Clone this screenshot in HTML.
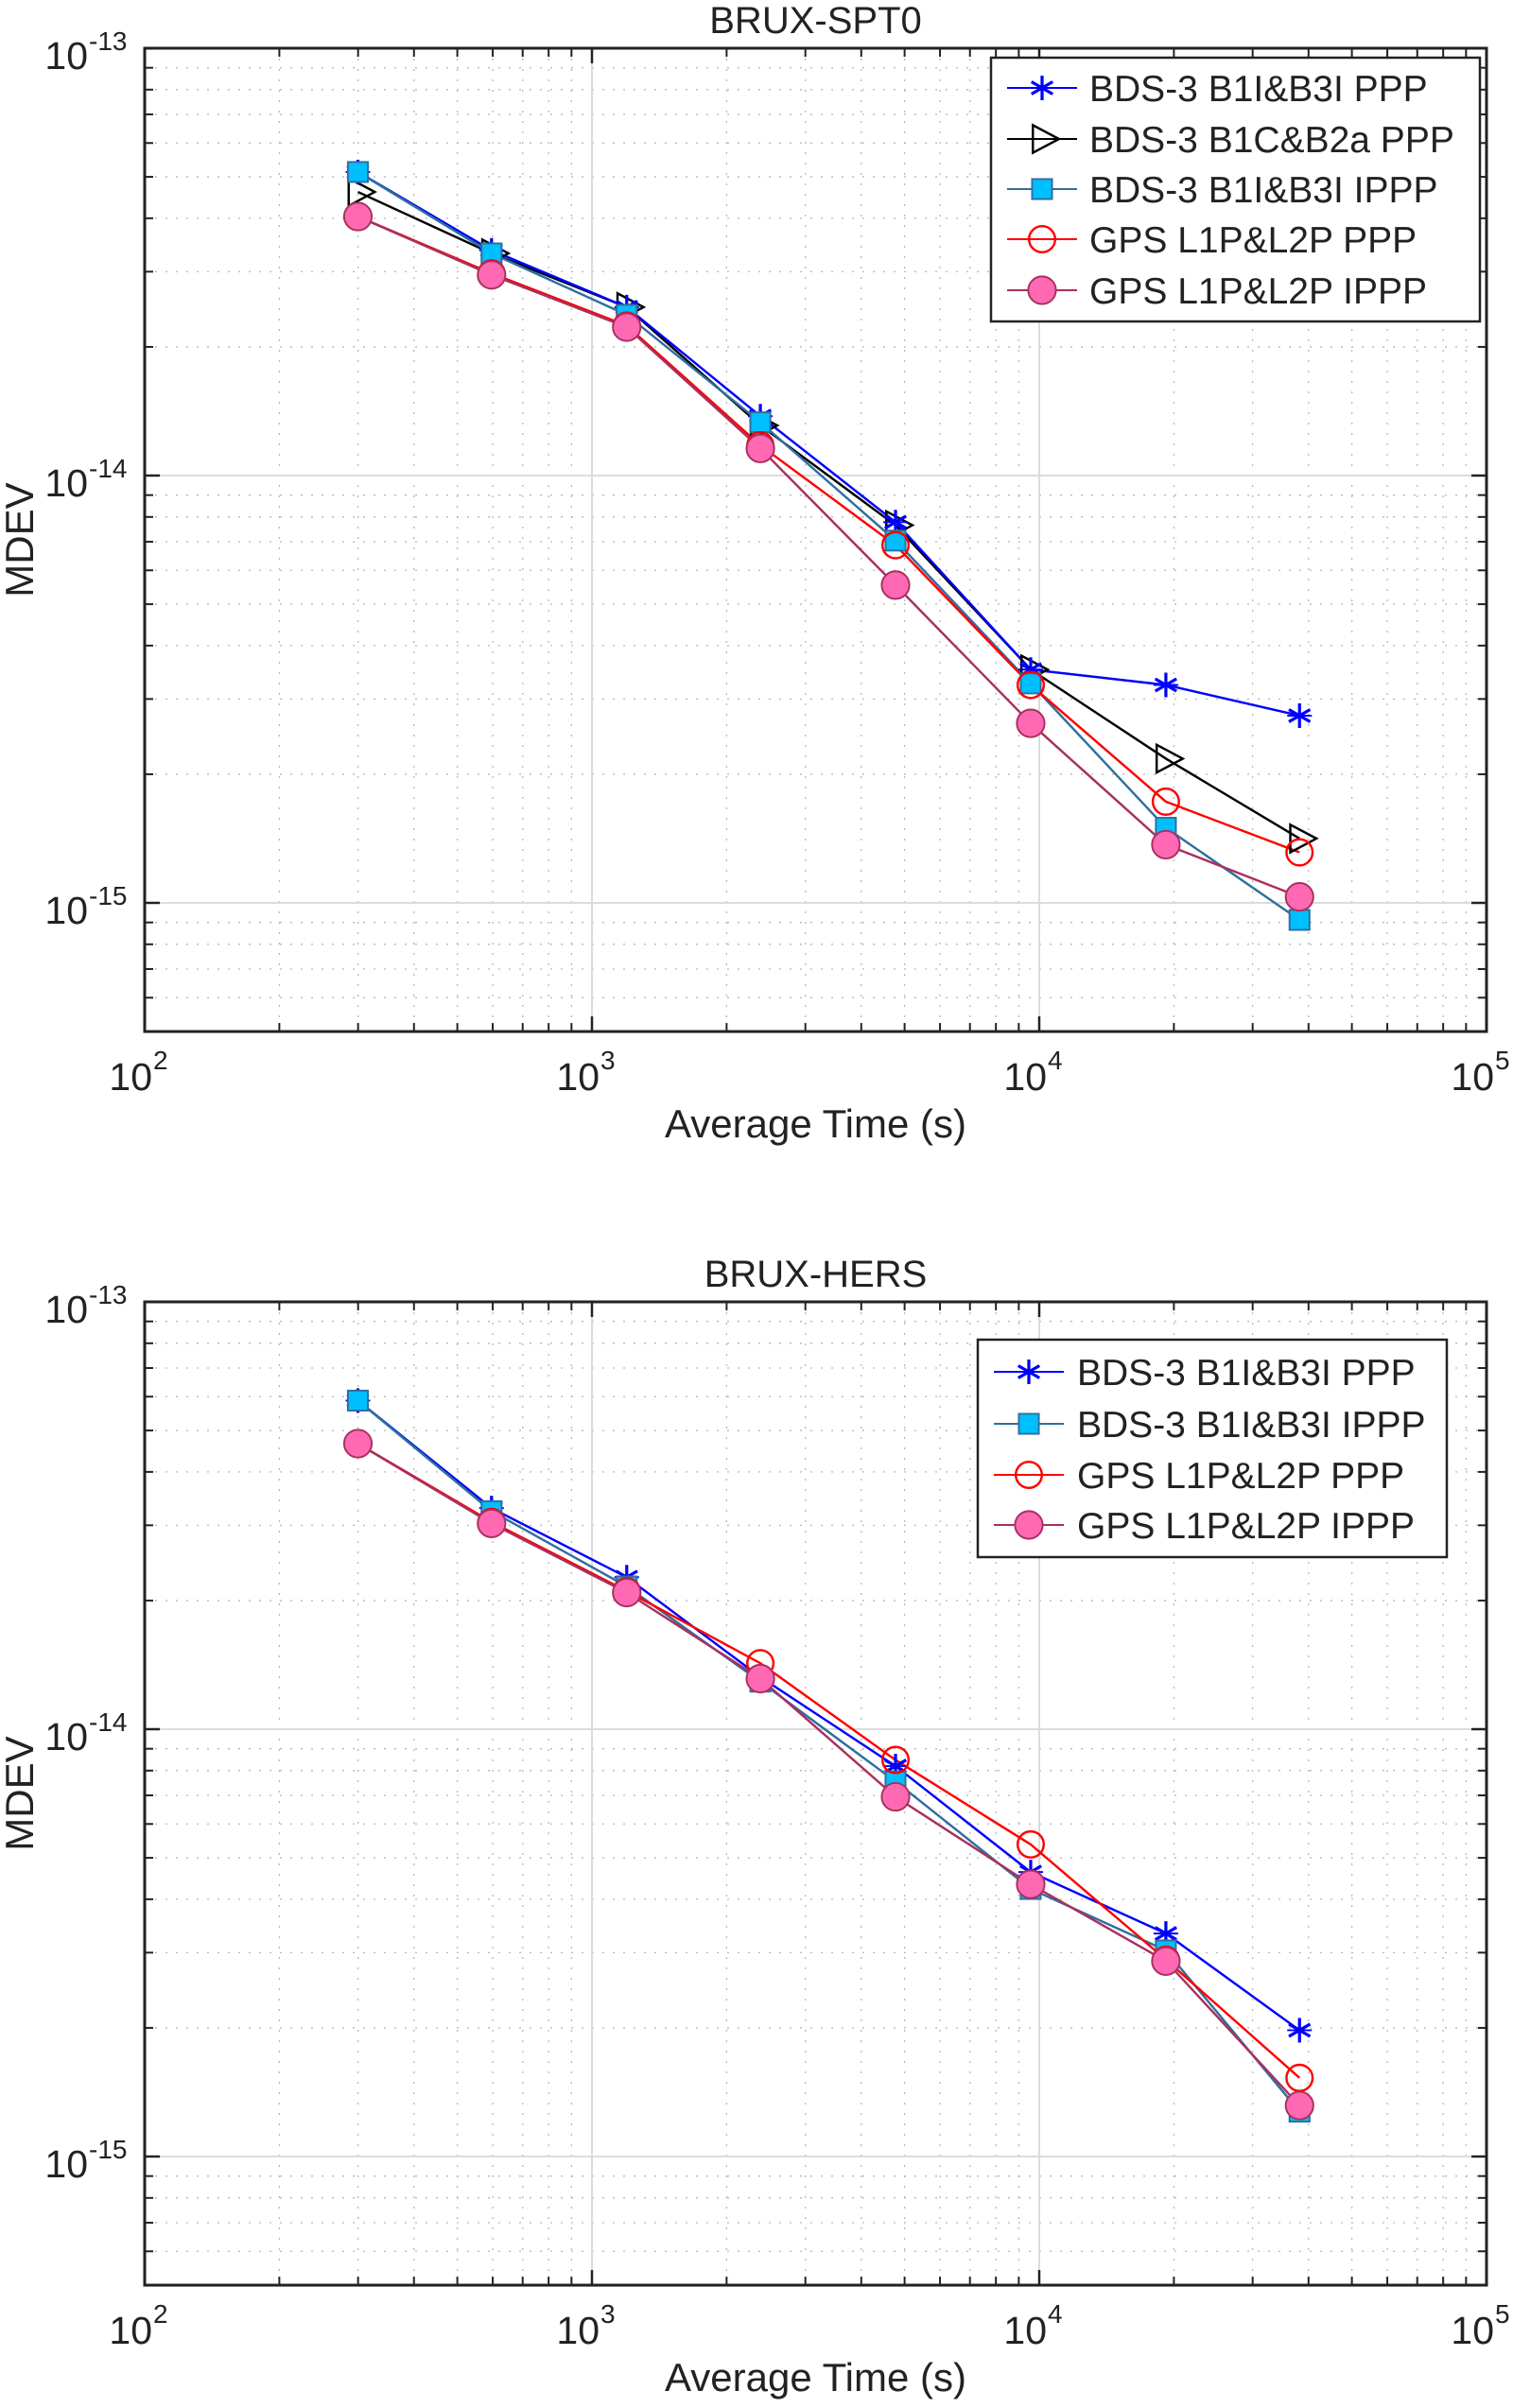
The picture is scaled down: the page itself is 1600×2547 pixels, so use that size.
<!DOCTYPE html>
<html><head><meta charset="utf-8"><style>
html,body{margin:0;padding:0;background:#fff}
svg{display:block}
text{font-family:"Liberation Sans",Arial,sans-serif;fill:#222}
</style></head><body>
<svg id="s" width="1600" height="2547" xmlns="http://www.w3.org/2000/svg"></svg>
<script>
const S=document.getElementById('s');const NS='http://www.w3.org/2000/svg';
function el(t,a,p){const e=document.createElementNS(NS,t);for(const k in a)e.setAttribute(k,a[k]);(p||S).appendChild(e);return e;}
function txt(x,y,s,sz,anc,p,extra){const e=el('text',Object.assign({x:x,y:y,'font-size':sz,'text-anchor':anc||'start'},extra||{}),p);e.textContent=s;return e;}
const L=153,R=1572,XD=473;
function X(t){return L+XD*(Math.log10(t)-2);}
function axes(top,title){
  const D=452,bot=top+D*(2+Math.log10(2));
  function Y(v){return top+D*(-13-Math.log10(v));}
  for(let d=2;d<=4;d++)for(let m=2;m<=9;m++){const x=X(m*Math.pow(10,d));
    el('line',{x1:x,y1:top,x2:x,y2:bot,stroke:'#b8b8b8','stroke-width':1.3,'stroke-dasharray':'2 9'});
    el('line',{x1:x,y1:bot,x2:x,y2:bot-9,stroke:'#222','stroke-width':2});
    el('line',{x1:x,y1:top,x2:x,y2:top+9,stroke:'#222','stroke-width':2});}
  for(let e=-16;e<=-14;e++)for(let m=1;m<=9;m++){const v=m*Math.pow(10,e);const y=Y(v);if(y>bot+1||y<top-1)continue;if(m==1&&e>-16)continue;
    el('line',{x1:L,y1:y,x2:R,y2:y,stroke:'#b8b8b8','stroke-width':1.3,'stroke-dasharray':'2 9'});
    el('line',{x1:L,y1:y,x2:L+9,y2:y,stroke:'#222','stroke-width':2});
    el('line',{x1:R,y1:y,x2:R-9,y2:y,stroke:'#222','stroke-width':2});}
  for(let d=3;d<=4;d++){const x=X(Math.pow(10,d));el('line',{x1:x,y1:top,x2:x,y2:bot,stroke:'#dcdcdc','stroke-width':2});
    el('line',{x1:x,y1:bot,x2:x,y2:bot-16,stroke:'#222','stroke-width':2.5});el('line',{x1:x,y1:top,x2:x,y2:top+16,stroke:'#222','stroke-width':2.5});}
  for(let e=-15;e<=-14;e++){const y=Y(Math.pow(10,e));el('line',{x1:L,y1:y,x2:R,y2:y,stroke:'#dcdcdc','stroke-width':2});
    el('line',{x1:L,y1:y,x2:L+16,y2:y,stroke:'#222','stroke-width':2.5});el('line',{x1:R,y1:y,x2:R-16,y2:y,stroke:'#222','stroke-width':2.5});}
  el('rect',{x:L,y:top,width:R-L,height:bot-top,fill:'none',stroke:'#222','stroke-width':3});
  for(let e=-15;e<=-13;e++){const y=Y(Math.pow(10,e));
    txt(93,y+22,'10',41,'end');txt(94,y+2,String(e),28,'start');}
  for(let d=2;d<=5;d++){const x=X(Math.pow(10,d));txt(x+8,bot+62,'10',41,'end');txt(x+9,bot+40,String(d),28,'start');}
  txt((L+R)/2,top-16,title,40,'middle');
  txt((L+R)/2,bot+112,'Average Time (s)',42,'middle');
  const my=(top+bot)/2;txt(0,0,'MDEV',42,'middle',null,{transform:'translate(35,'+my+') rotate(-90)'});
  return {top,bot};
}
const C={star:{line:'#0000ff'},tri:{line:'#000'},sq:{line:'#2f6f9f'},oc:{line:'#ff0000'},pc:{line:'#a8305e'}};
function marker(g,k,x,y){
  if(k=='star'){const r=8;for(const a of [0,60,120]){const t=a*Math.PI/180;el('line',{x1:x-r*Math.sin(t),y1:y-r*Math.cos(t),x2:x+r*Math.sin(t),y2:y+r*Math.cos(t),stroke:'#0000ff','stroke-width':2},g);}
    el('line',{x1:x-r,y1:y,x2:x+r,y2:y,stroke:'#0000ff','stroke-width':1.2},g);}
  if(k=='tri'){el('polygon',{points:(x-6)+','+(y-9)+' '+(x+11)+','+y+' '+(x-6)+','+(y+9),fill:'none',stroke:'#000','stroke-width':1.5},g);}
  if(k=='sq'){el('rect',{x:x-6.5,y:y-6.5,width:13,height:13,fill:'#00bfff',stroke:'#2f6f9f','stroke-width':1.2},g);}
  if(k=='oc'){el('circle',{cx:x,cy:y,r:8.5,fill:'none',stroke:'#ff0000','stroke-width':1.5},g);}
  if(k=='pc'){el('circle',{cx:x,cy:y,r:9,fill:'#ff69b4',stroke:'#a8305e','stroke-width':1.2},g);}
}
const xs=[233,320,408,495,583,671,759,846];
function series(data){
  const g=el('g',{transform:'scale(1.6244)'});
  for(const [k,ys] of data){el('polyline',{points:xs.map((x,i)=>x+','+ys[i]).join(' '),fill:'none',stroke:C[k].line,'stroke-width':1.5},g);}
  for(const [k,ys] of data){xs.forEach((x,i)=>marker(g,k,x,ys[i]));}
}
function legend(x1,y1,x2,y2,rows,lx,tx,ys){
  el('rect',{x:x1,y:y1,width:x2-x1,height:y2-y1,fill:'#fff',stroke:'#222','stroke-width':2.5});
  rows.forEach((r,i)=>{const y=ys[i];el('line',{x1:lx-37,y1:y,x2:lx+37,y2:y,stroke:C[r[0]].line,'stroke-width':2});
    const g=el('g',{transform:'translate('+lx+','+y+') scale(1.6244)'});marker(g,r[0],0,0);
    txt(tx,y+14,r[1],39,'start');});
}
axes(51,'BRUX-SPT0');
series([
 ['tri',[125,165,200,277,342,436,494,546]],
 ['star',[112,163,200,271,340,436,446,466]],
 ['sq',[112,165,205,275,352,445,539,599]],
 ['oc',[141,178,212,290,355,446,522,555]],
 ['pc',[141,179,213,292,381,471,550,584]]]);
legend(1048,61,1565,340,[['star','BDS-3 B1I&B3I PPP'],['tri','BDS-3 B1C&B2a PPP'],['sq','BDS-3 B1I&B3I IPPP'],['oc','GPS L1P&L2P PPP'],['pc','GPS L1P&L2P IPPP']],1102,1152,[93,147,200,253,307]);
axes(1377,'BRUX-HERS');
series([
 ['star',[912,982,1027,1092,1150,1219,1259,1322]],
 ['sq',[912,984,1033,1095,1160,1230,1270,1375]],
 ['oc',[940,991,1036,1083,1146,1201,1276,1353]],
 ['pc',[940,992,1037,1093,1170,1227,1277,1371]]]);
legend(1034,1417,1530,1647,[['star','BDS-3 B1I&B3I PPP'],['sq','BDS-3 B1I&B3I IPPP'],['oc','GPS L1P&L2P PPP'],['pc','GPS L1P&L2P IPPP']],1088,1139,[1451,1506,1560,1613]);
</script>
</body></html>
